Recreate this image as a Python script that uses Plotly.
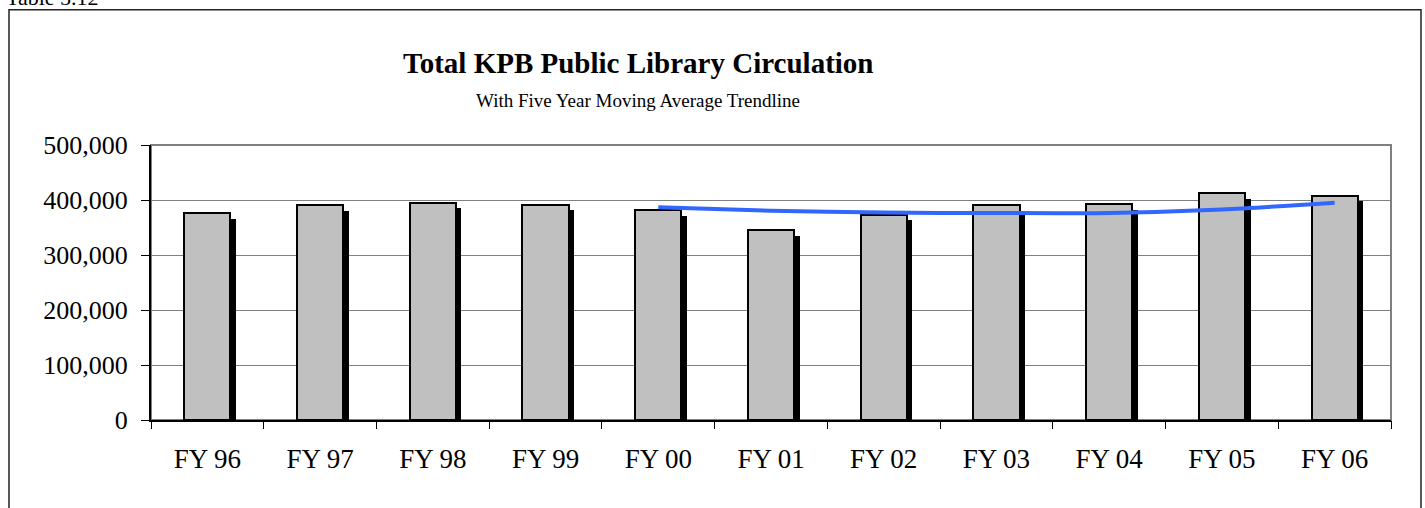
import plotly.graph_objects as go

categories = ["FY 96", "FY 97", "FY 98", "FY 99", "FY 00", "FY 01",
              "FY 02", "FY 03", "FY 04", "FY 05", "FY 06"]
circulation = [375800, 390300, 395100, 391000, 381800, 344900,
               373300, 390300, 392100, 412700, 407800]
# five year moving average trendline (starts at FY 00)
trend_categories = ["FY 00", "FY 01", "FY 02", "FY 03", "FY 04", "FY 05", "FY 06"]
trend_values = [386800, 380600, 377200, 376300, 376500, 382700, 395200]
y_ticks = [0, 100000, 200000, 300000, 400000, 500000]

W, H = 1425, 508
L, R, T, B = 151, 34, 144.5, 88
plot_w = W - L - R
plot_h = H - T - B
n = len(categories)
x_idx = list(range(n))
cat_px = plot_w / n
y_max = 500000
shadow_dx = 5.5 / cat_px
shadow_dy = 5.5 * y_max / plot_h
bar_w = 0.41

FONT = "Liberation Serif, Times New Roman, serif"

fig = go.Figure()
# shadow
fig.add_trace(go.Bar(
    x=[i + shadow_dx for i in x_idx],
    y=[v - shadow_dy for v in circulation],
    width=bar_w, marker=dict(color="black", line=dict(width=0)),
    hoverinfo="skip", showlegend=False))
# main bars
fig.add_trace(go.Bar(
    x=x_idx, y=circulation, width=bar_w,
    marker=dict(color="#C0C0C0", line=dict(color="black", width=2)),
    showlegend=False, name="Circulation"))
# trendline
fig.add_trace(go.Scatter(
    x=[categories.index(c) for c in trend_categories], y=trend_values,
    mode="lines", line=dict(color="#3366FF", width=4, shape="spline", smoothing=0.8),
    showlegend=False, name="5 Yr Moving Avg"))

# invisible trace on xaxis2 for boundary ticks
fig.add_trace(go.Scatter(x=[-0.5, n - 0.5], y=[0, 0], xaxis="x2", mode="markers",
                         marker=dict(opacity=0), hoverinfo="skip", showlegend=False))

fig.update_layout(
    width=W, height=H,
    margin=dict(l=L, r=R, t=T, b=B, pad=0),
    paper_bgcolor="white", plot_bgcolor="white",
    barmode="overlay", bargap=0,
    font=dict(family=FONT, color="black", size=24),
    xaxis=dict(range=[-0.5, n - 0.5], tickmode="array", tickvals=x_idx,
               ticktext=categories, ticks="outside", ticklen=8,
               tickcolor="rgba(0,0,0,0)", showgrid=False, zeroline=False,
               showline=True, linecolor="black", linewidth=2,
               tickfont=dict(family=FONT, size=27), ticklabelstandoff=6,
               fixedrange=True),
    xaxis2=dict(overlaying="x", matches="x", anchor="y",
                range=[-0.5, n - 0.5], tickmode="array",
                tickvals=[i - 0.5 for i in range(n + 1)], ticktext=[""] * (n + 1),
                ticks="outside", ticklen=8, tickcolor="black", tickwidth=1,
                showgrid=False, zeroline=False, showline=False, side="bottom"),
    yaxis=dict(range=[0, y_max], tickmode="array", tickvals=y_ticks,
               ticktext=[f"{v:,}" for v in y_ticks], ticks="outside", ticklen=8,
               tickcolor="black", showgrid=True, gridcolor="#808080", gridwidth=1,
               zeroline=False, showline=True, linecolor="black", linewidth=2,
               tickfont=dict(family=FONT, size=26), ticklabelstandoff=8,
               fixedrange=True),
)

# plot area frame (gray top & right)
fig.add_shape(type="rect", xref="paper", yref="paper", x0=0, x1=1, y0=0, y1=1,
              line=dict(color="#808080", width=2), layer="below")
# outer chart border
fig.add_shape(type="rect", xref="paper", yref="paper",
              x0=(9 - L) / plot_w, x1=(1421 - L) / plot_w,
              y0=(H - T - 530) / plot_h, y1=(H - B - 9) / plot_h,
              line=dict(color="#222222", width=1.5))

def py(p):
    return (H - B - p) / plot_h

def px(p):
    return (p - L) / plot_w

fig.add_annotation(text="<b>Total KPB Public Library Circulation</b>",
                   xref="paper", yref="paper", x=px(638), y=py(62),
                   xanchor="center", yanchor="middle", showarrow=False,
                   font=dict(family=FONT, size=29, color="black"))
fig.add_annotation(text="With Five Year Moving Average Trendline",
                   xref="paper", yref="paper", x=px(638), y=py(100),
                   xanchor="center", yanchor="middle", showarrow=False,
                   font=dict(family=FONT, size=19, color="black"))
fig.add_annotation(text="Table 5.12",
                   xref="paper", yref="paper", x=px(4), y=py(-3),
                   xanchor="left", yanchor="middle", showarrow=False,
                   font=dict(family=FONT, size=22, color="black"))

fig.write_html("out.html", config={"displayModeBar": False},
               post_script="document.body.style.margin='0';document.body.style.overflow='hidden';")
